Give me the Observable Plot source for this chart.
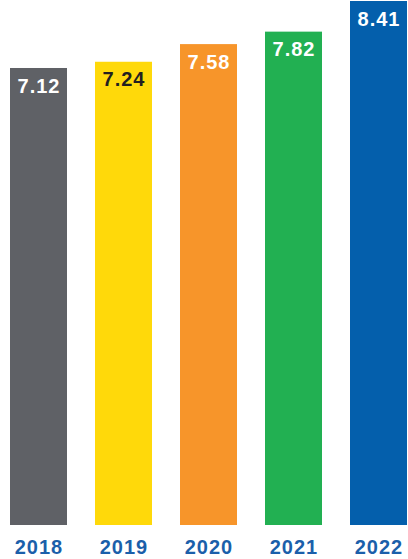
<!DOCTYPE html>
<html>
<head>
<meta charset="utf-8">
<script src="https://cdn.jsdelivr.net/npm/d3@7"></script>
<script src="https://cdn.jsdelivr.net/npm/@observablehq/plot@0.6"></script>
<style>
  html, body { margin: 0; padding: 0; background: #ffffff; }
  #chart svg { display: block; }
</style>
</head>
<body>
<div id="chart"></div>
<script>
const years = ["2018", "2019", "2020", "2021", "2022"];
const values = [7.12, 7.24, 7.58, 7.82, 8.41];
const barColors = ["#5f6166", "#ffd90a", "#f7952a", "#22b052", "#045fac"];
const labelColors = ["#ffffff", "#231f20", "#ffffff", "#ffffff", "#ffffff"];
const baseline = -1.68;

const data = years.map((y, i) => ({year: y, value: values[i], color: barColors[i], label: labelColors[i]}));

const chart = Plot.plot({
  width: 408,
  height: 559,
  marginLeft: 9,
  marginRight: 1,
  marginTop: 1,
  marginBottom: 34,
  style: {background: "#ffffff", fontFamily: "'Liberation Sans', Arial, sans-serif"},
  x: {domain: years, paddingInner: 0.33, paddingOuter: 0, axis: null},
  y: {domain: [baseline, 8.41], axis: null},
  marks: [
    Plot.barY(data, {x: "year", y1: () => baseline, y2: "value", fill: "color"}),
    Plot.text(data, {
      x: "year", y: "value", text: d => d.value.toFixed(2),
      fill: "label", lineAnchor: "top", dy: 10,
      fontSize: 20, fontWeight: "bold", letterSpacing: 1
    }),
    Plot.text(data, {
      x: "year", text: "year", frameAnchor: "bottom", lineAnchor: "top", dy: 14,
      fill: "#1b5faa", fontSize: 20, fontWeight: "bold"
    })
  ]
});
chart.querySelectorAll("text").forEach(t => t.style.letterSpacing = "1px");
document.getElementById("chart").appendChild(chart);
</script>
</body>
</html>
